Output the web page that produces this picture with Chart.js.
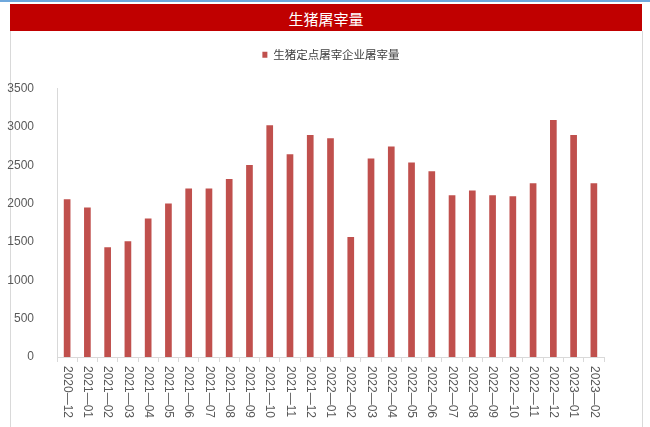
<!DOCTYPE html>
<html>
<head>
<meta charset="utf-8">
<script src="https://cdn.jsdelivr.net/npm/chart.js@4.4.0/dist/chart.umd.min.js"></script>
<style>
  html, body { margin: 0; padding: 0; background: #fff; }
  #wrap { position: relative; width: 650px; height: 427px; overflow: hidden; }
  #topline { position: absolute; left: 0; top: 0; width: 650px; height: 2px; background: #6fa8dc; }
  #header {
    position: absolute; left: 10px; top: 4px; width: 632px; height: 27px;
    background: #c00000; color: #fff; text-align: center;
    font: 15px "Noto Sans CJK SC", sans-serif; line-height: 29px;
  }
  #panel {
    position: absolute; left: 10px; top: 31px; width: 631px; height: 400px;
    border-left: 1px solid #d9d9d9; border-right: 1px solid #d9d9d9;
  }
  canvas { position: absolute; left: 0; top: 0; }
</style>
</head>
<body>
<div id="wrap">
  <div id="topline"></div>
  <div id="header">生猪屠宰量</div>
  <div id="panel"></div>
  <canvas id="chart" width="650" height="427"></canvas>
</div>
<script>
const months = [
  '2020—12', '2021—01', '2021—02', '2021—03', '2021—04', '2021—05', '2021—06',
  '2021—07', '2021—08', '2021—09', '2021—10', '2021—11', '2021—12', '2022—01',
  '2022—02', '2022—03', '2022—04', '2022—05', '2022—06', '2022—07', '2022—08',
  '2022—09', '2022—10', '2022—11', '2022—12', '2023—01', '2023—02'
];
const slaughter = [
  2056, 1948, 1430, 1509, 1804, 2000, 2195, 2195, 2321, 2504, 3021, 2643, 2895, 2852,
  1565, 2587, 2743, 2535, 2421, 2108, 2169, 2110, 2095, 2265, 3091, 2895, 2265
];
const seriesName = '生猪定点屠宰企业屠宰量';
const yTicks = [0, 500, 1000, 1500, 2000, 2500, 3000, 3500];

// x labels read top-to-bottom, so they are drawn by hand at the scale's tick positions
const verticalLabels = {
  id: 'verticalLabels',
  beforeUpdate(chart) {
    // leave extra room under the legend so the plot starts lower
    const lg = chart.legend;
    if (lg && !lg._padded) {
      const fit = lg.fit;
      lg.fit = function () { fit.call(this); this.height += 18; };
      lg._padded = true;
    }
  },
  afterLayout(chart) {
    // centre the legend on the page rather than on the padded plot
    chart.legend.left = 12;
    chart.legend.right = chart.width;
  },
  afterDraw(chart) {
    const xs = chart.scales.x;
    const ctx = chart.ctx;
    ctx.save();
    ctx.font = '12px "Liberation Sans", Arial, sans-serif';
    ctx.fillStyle = '#595959';
    ctx.textAlign = 'left';
    ctx.textBaseline = 'middle';
    months.forEach((m, i) => {
      const x = xs.getPixelForTick(i);
      ctx.save();
      ctx.translate(x, xs.top + 9);
      ctx.rotate(Math.PI / 2);
      ctx.fillText(m, 0, 0);
      ctx.restore();
    });
    ctx.restore();
  }
};

new Chart(document.getElementById('chart'), {
  type: 'bar',
  data: {
    labels: months,
    datasets: [{
      label: seriesName,
      data: slaughter,
      backgroundColor: '#c0504d',
      barPercentage: 0.33,
      categoryPercentage: 1
    }]
  },
  options: {
    responsive: false,
    animation: false,
    layout: { padding: { left: 0, right: 46, top: 23, bottom: 0 } },
    plugins: {
      legend: {
        display: true,
        position: 'top',
        labels: {
          boxWidth: 5,
          boxHeight: 6,
          padding: 26,
          color: '#404040',
          font: { family: '"Noto Sans CJK SC", sans-serif', size: 11.5 }
        }
      },
      tooltip: { enabled: false }
    },
    scales: {
      x: {
        grid: {
          display: true,
          drawOnChartArea: false,
          drawTicks: true,
          tickLength: 5,
          color: '#d9d9d9'
        },
        border: { display: true, color: '#d9d9d9' },
        ticks: { display: false },
        afterFit(scale) { scale.height = 70; }
      },
      y: {
        min: 0,
        max: 3500,
        afterBuildTicks(scale) { scale.ticks = yTicks.map(v => ({ value: v })); },
        grid: { display: false },
        border: { display: true, color: '#d9d9d9' },
        ticks: {
          padding: 15,
          color: '#595959',
          font: { family: '"Liberation Sans", Arial, sans-serif', size: 12 },
          callback: v => String(v)
        },
        afterFit(scale) { scale.width = 57; }
      }
    }
  },
  plugins: [verticalLabels]
});
</script>
</body>
</html>
